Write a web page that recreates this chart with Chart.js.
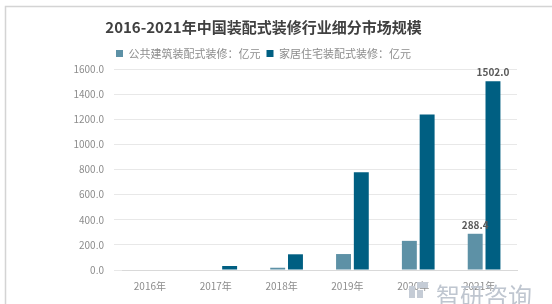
<!DOCTYPE html>
<html>
<head>
<meta charset="utf-8">
<script src="https://cdn.jsdelivr.net/npm/chart.js@4"></script>
<style>
  html, body { margin: 0; padding: 0; background: #fff; }
  #wrap { width: 552px; height: 304px; position: relative; }
</style>
</head>
<body>
<div id="wrap"><canvas id="myChart" width="552" height="304"></canvas></div>
<script>
// Chart data
const years = ['2016年', '2017年', '2018年', '2019年', '2020年', '2021年'];
const publicValues = [0, 0, 18, 127, 232, 288.4];       // 公共建筑装配式装修：亿元
const homeValues = [0, 32, 125, 778, 1238, 1502.0];    // 家居住宅装配式装修：亿元
const yTicks = [0, 200, 400, 600, 800, 1000, 1200, 1400, 1600];

const FONT = "'Noto Sans CJK SC', 'Noto Sans', sans-serif";

// Light frame round the chart and the watermark in the bottom corner
const framePlugin = {
    id: 'frame',
    beforeDraw(chart) {
        const c = chart.ctx;
        c.save();
        c.fillStyle = '#fff';
        c.fillRect(0, 0, chart.width, chart.height);
        c.strokeStyle = '#d4d4d4';
        c.lineWidth = 1.5;
        c.beginPath();
        c.moveTo(5.5, chart.height);
        c.lineTo(5.5, 6.5);
        c.lineTo(chart.width, 6.5);
        c.stroke();
        c.restore();
    },
    afterDraw(chart) {
        const c = chart.ctx;
        c.save();
        // small logo mark
        c.fillStyle = '#c5ccd6';
        c.fillRect(409, 286, 6, 12);
        c.fillRect(417, 282, 11, 6);
        c.fillRect(417, 290, 6, 8);
        c.font = "24px " + FONT;
        c.fillStyle = '#bfc6d0';
        c.textBaseline = 'middle';
        c.textAlign = 'left';
        c.fillText('智研咨询', 436, 296);
        c.restore();
    }
};

// Value labels only on the 2021 bars
const labelPlugin = {
    id: 'lastLabels',
    afterDatasetsDraw(chart) {
        const c = chart.ctx;
        c.save();
        c.font = "bold 10px " + FONT;
        c.fillStyle = '#595959';
        c.textAlign = 'center';
        c.textBaseline = 'bottom';
        chart.data.datasets.forEach((ds, i) => {
            const meta = chart.getDatasetMeta(i);
            const last = ds.data.length - 1;
            const bar = meta.data[last];
            c.fillText(ds.data[last].toFixed(1), bar.x, bar.y - 4);
        });
        c.restore();
    }
};

const ctx = document.getElementById('myChart').getContext('2d');

const chart = new Chart(ctx, {
    type: 'bar',
    data: {
        labels: years,
        datasets: [
            {
                label: '公共建筑装配式装修：亿元',
                data: publicValues,
                backgroundColor: '#5d91a6',
                categoryPercentage: 0.54,
                barPercentage: 0.84
            },
            {
                label: '家居住宅装配式装修：亿元',
                data: homeValues,
                backgroundColor: '#005f82',
                categoryPercentage: 0.54,
                barPercentage: 0.84
            }
        ]
    },
    options: {
        responsive: false,
        animation: false,
        layout: { padding: { left: 10, right: 35, top: 0, bottom: 10 } },
        plugins: {
            title: {
                display: true,
                text: '2016-2021年中国装配式装修行业细分市场规模',
                color: '#404040',
                font: { family: FONT, size: 15, weight: 'bold' },
                padding: { top: 18, bottom: 6 }
            },
            legend: {
                display: true,
                labels: {
                    color: '#8c8c8c',
                    font: { family: FONT, size: 11 },
                    boxWidth: 7,
                    boxHeight: 7,
                    padding: 6
                }
            },
            tooltip: { enabled: false }
        },
        scales: {
            x: {
                grid: { display: false },
                border: { color: '#d9d9d9' },
                ticks: { color: '#8c8c8c', font: { family: FONT, size: 10 }, padding: 2, labelOffset: -5 }
            },
            y: {
                min: 0,
                max: 1600,
                afterBuildTicks(scale) {
                    scale.ticks = yTicks.map(v => ({ value: v }));
                },
                afterFit(scale) { scale.width = 112; },
                grid: { color: '#e8e8e8' },
                border: { display: false },
                ticks: {
                    color: '#8c8c8c',
                    font: { family: FONT, size: 10 },
                    padding: 10,
                    callback: v => Number(v).toFixed(1)
                }
            }
        }
    },
    plugins: [framePlugin, labelPlugin]
});
</script>
</body>
</html>
